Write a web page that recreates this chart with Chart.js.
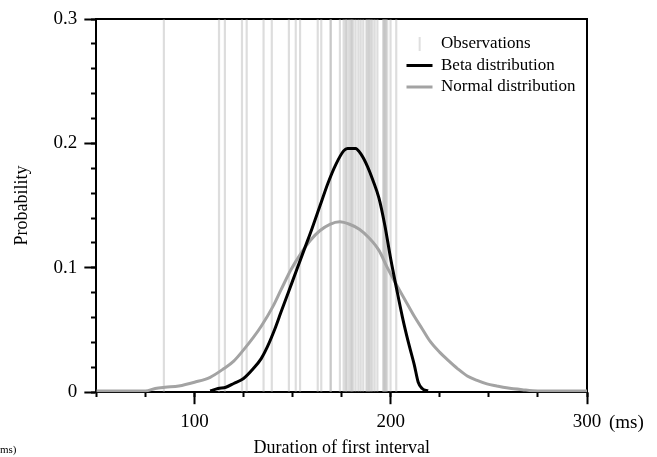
<!DOCTYPE html>
<html>
<head>
<meta charset="utf-8">
<script src="https://cdn.jsdelivr.net/npm/chart.js@4/dist/chart.umd.min.js"></script>
<style>
  body { margin: 0; background: #fff; }
  #wrap { width: 657px; height: 457px; }
</style>
</head>
<body>
<div id="wrap"><canvas id="durationChart" width="657" height="457"></canvas></div>
<script>
// observed durations of the first interval (ms), one vertical line each
const obsTimes = [84.4, 112.5, 115.5, 124.2, 126.6, 135.2, 139.4, 148.1, 151.6, 153.8,
    162.8, 164.6, 169.4, 169.4, 174.1, 176.0, 177.0, 177.5, 178.6, 179.6, 180.1, 180.9,
    182.1, 183.5, 184.7, 186.0, 187.6, 188.2, 189.0, 189.7, 190.6, 191.8, 193.2,
    196.3, 196.3, 197.3, 197.3, 198.2, 199.9, 202.8];

// fitted beta distribution
const betaX = [108, 112, 116, 120, 125, 130, 134, 137, 141, 144, 148, 152, 156, 160, 164,
    168, 172, 176, 178, 182, 185, 188, 191, 194, 197, 200, 203, 206, 209, 212, 214, 216, 219];
const betaY = [0.001, 0.003, 0.004, 0.007, 0.011, 0.019, 0.027, 0.036, 0.051, 0.064, 0.081,
    0.098, 0.115, 0.132, 0.150, 0.168, 0.183, 0.194, 0.196, 0.196, 0.191, 0.182, 0.170,
    0.156, 0.134, 0.107, 0.083, 0.060, 0.040, 0.022, 0.008, 0.003, 0.001];

// fitted normal distribution
const normalX = [50, 75, 80, 85, 92, 100, 108, 115, 120, 125, 130, 134, 140, 144, 149, 154,
    159, 164, 169, 174, 179, 184, 189, 194, 198, 202, 207, 212, 216, 220, 225, 229, 234,
    239, 244, 249, 254, 259, 267, 275, 300];
const normalY = [0.001, 0.001, 0.003, 0.004, 0.005, 0.008, 0.012, 0.019, 0.025, 0.034, 0.044,
    0.053, 0.069, 0.082, 0.098, 0.111, 0.122, 0.130, 0.135, 0.137, 0.135, 0.131, 0.124,
    0.114, 0.101, 0.089, 0.075, 0.061, 0.051, 0.041, 0.032, 0.026, 0.019, 0.013, 0.0095,
    0.0067, 0.005, 0.0035, 0.002, 0.001, 0.001];

const xTickLabels = [100, 200, 300];
const yTickLabels = [0, 0.1, 0.2, 0.3];

Chart.defaults.font.family = '"Liberation Serif", "Times New Roman", serif';
Chart.defaults.color = '#000';

const toPoints = (xs, ys) => xs.map((x, i) => ({ x: x, y: ys[i] }));

// small vertical tick used as the legend symbol of the observations
const obsIcon = document.createElement('canvas');
obsIcon.width = 26;
obsIcon.height = 14;
(function() {
    const c = obsIcon.getContext('2d');
    c.fillStyle = '#d4d4d4';
    c.fillRect(12.5, 0, 1.5, 14);
})();

// "(ms)" unit next to the last x label, and the clipped note bottom-left
const unitLabels = {
    id: 'unitLabels',
    afterDraw(chart) {
        const ctx = chart.ctx;
        const xs = chart.scales.x;
        ctx.save();
        ctx.fillStyle = '#000';
        ctx.textBaseline = 'middle';
        ctx.textAlign = 'left';
        ctx.font = '19px "Liberation Serif"';
        ctx.fillText('(ms)', xs.getPixelForValue(300) + 22, xs.top + 12 + 7 + 11.4);
        ctx.font = '11px "Liberation Serif"';
        ctx.fillText('ms)', 0, 450);
        ctx.restore();
    }
};

// legend sits inside the plot, top right
const legendInside = {
    id: 'legendInside',
    afterLayout(chart) {
        const lg = chart.legend;
        if (!lg) return;
        const w = lg.width, h = 80;
        lg.left = 402; lg.top = 31;
        lg.right = lg.left + w; lg.bottom = lg.top + h;
        lg.height = h;
    }
};

const ctx = document.getElementById('durationChart');

new Chart(ctx, {
    type: 'line',
    data: {
        datasets: [{
            label: 'Beta distribution',
            data: toPoints(betaX, betaY),
            borderColor: '#000',
            borderWidth: 3,
            pointRadius: 0,
            cubicInterpolationMode: 'monotone'
        }, {
            label: 'Normal distribution',
            data: toPoints(normalX, normalY),
            borderColor: '#a3a3a3',
            borderWidth: 3,
            pointRadius: 0,
            cubicInterpolationMode: 'monotone'
        }, {
            type: 'bar',
            label: 'Observations',
            data: obsTimes.map(t => ({ x: t, y: [0, 0.3] })),
            backgroundColor: 'rgba(165, 165, 165, 0.38)',
            borderWidth: 0,
            barThickness: 1.5,
            grouped: false
        }]
    },
    options: {
        responsive: false,
        animation: false,
        devicePixelRatio: 1,
        layout: { padding: { left: 7, top: 19, right: 70, bottom: 0 } },
        plugins: {
            tooltip: { enabled: false },
            legend: {
                position: 'chartArea',
                align: 'start',
                labels: {
                    font: { size: 17 },
                    color: '#000',
                    usePointStyle: true,
                    pointStyleWidth: 26,
                    boxHeight: 10,
                    padding: 4.5,
                    generateLabels: () => [
                        { text: 'Observations', pointStyle: obsIcon, strokeStyle: '#d4d4d4', lineWidth: 1.5, fillStyle: '#d4d4d4' },
                        { text: 'Beta distribution', pointStyle: 'line', rotation: 0, strokeStyle: '#000', lineWidth: 3, fillStyle: '#000' },
                        { text: 'Normal distribution', pointStyle: 'line', rotation: 0, strokeStyle: '#a3a3a3', lineWidth: 3, fillStyle: '#a3a3a3' }
                    ]
                }
            }
        },
        scales: {
            x: {
                type: 'linear',
                min: 50,
                max: 300,
                offset: false,
                afterBuildTicks: axis => { axis.ticks = xTickLabels.map(v => ({ value: v })); },
                ticks: { font: { size: 19 }, padding: 6, maxRotation: 0, callback: v => String(v) },
                grid: { offset: false, drawOnChartArea: false, tickLength: 12, tickWidth: 2, tickColor: '#000' },
                border: { color: '#000', width: 2 },
                title: {
                    display: true,
                    text: 'Duration of first interval',
                    font: { size: 18, lineHeight: 1 },
                    padding: { top: 0, bottom: 0 }
                }
            },
            y: {
                min: 0,
                max: 0.3,
                afterBuildTicks: axis => { axis.ticks = yTickLabels.map(v => ({ value: v })); },
                ticks: { font: { size: 19 }, padding: 7, callback: v => v === 0 ? '0' : v.toFixed(1) },
                grid: { drawOnChartArea: false, tickLength: 12, tickWidth: 2, tickColor: '#000' },
                border: { color: '#000', width: 2 },
                title: {
                    display: true,
                    text: 'Probability',
                    font: { size: 18 },
                    padding: { top: 4, bottom: 14 }
                }
            },
            xMinor: {
                type: 'linear',
                axis: 'x',
                position: { y: 0 },
                min: 50,
                max: 300,
                offset: false,
                ticks: { display: false, stepSize: 25 },
                grid: { offset: false, drawOnChartArea: false, tickLength: 5, tickWidth: 2, tickColor: '#000' },
                border: { display: false }
            },
            yMinor: {
                type: 'linear',
                axis: 'y',
                position: { x: 50 },
                min: 0,
                max: 0.3,
                ticks: { display: false, stepSize: 0.02 },
                grid: { drawOnChartArea: false, tickLength: 5, tickWidth: 2, tickColor: '#000' },
                border: { display: false }
            },
            xTop: {
                type: 'linear',
                axis: 'x',
                position: 'top',
                min: 50,
                max: 300,
                offset: false,
                ticks: { display: false },
                grid: { display: false, drawTicks: false },
                border: { color: '#000', width: 2 }
            },
            yRight: {
                type: 'linear',
                axis: 'y',
                position: 'right',
                min: 0,
                max: 0.3,
                ticks: { display: false },
                grid: { display: false, drawTicks: false },
                border: { color: '#000', width: 2 }
            }
        }
    },
    plugins: [legendInside, unitLabels]
});
</script>
</body>
</html>
